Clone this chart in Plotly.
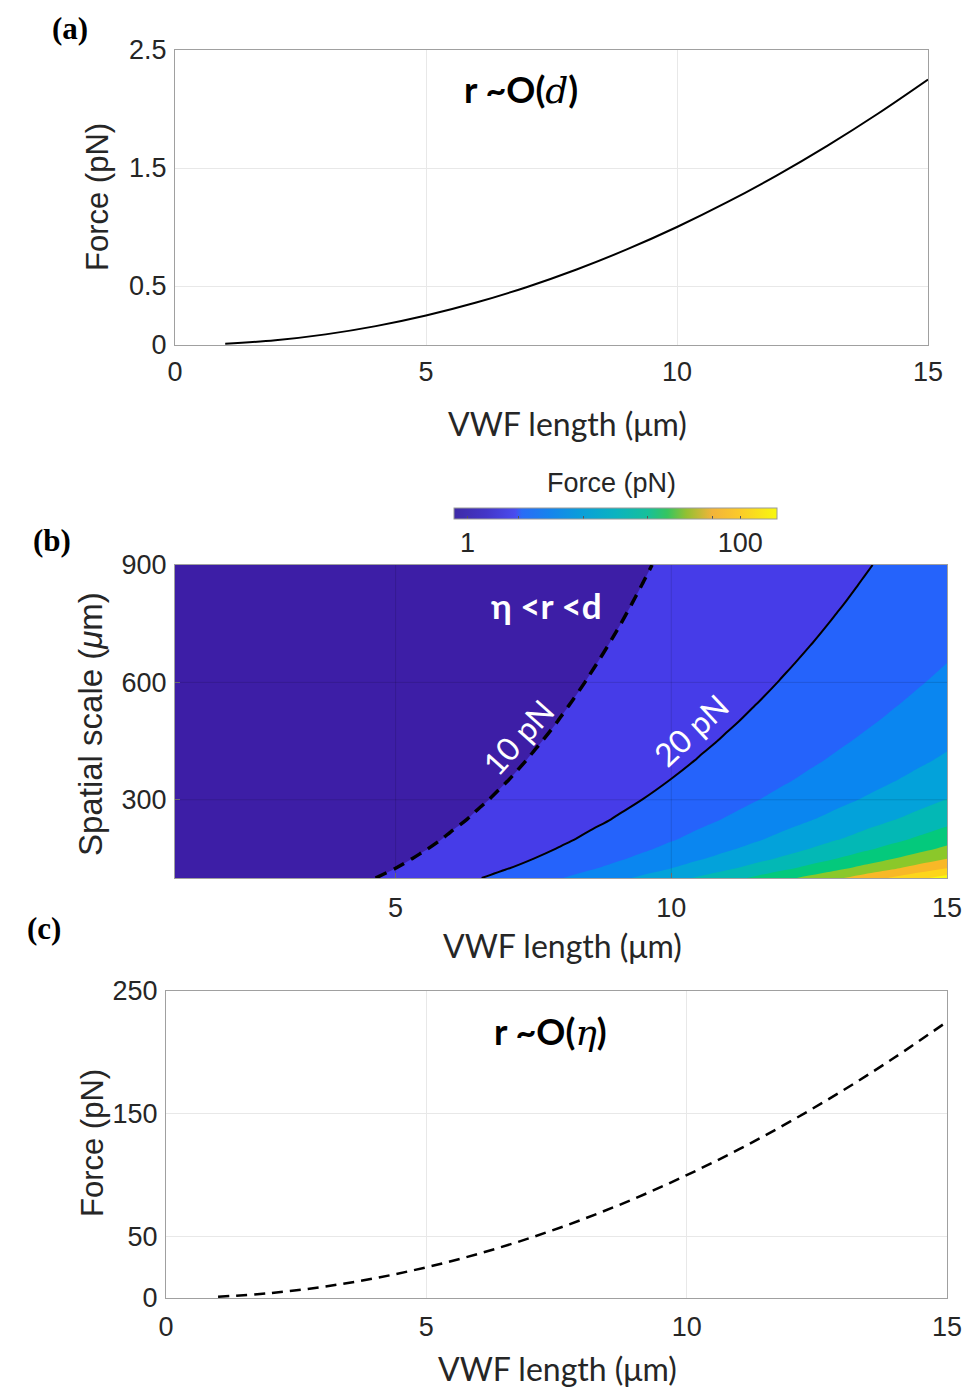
import numpy as np
import plotly.graph_objects as go

# ---------------- data ----------------
vwf_len = [1, 2, 3, 4, 5, 6, 7, 8, 9, 10, 11, 12, 13, 14, 15]
force_a = [0.01, 0.04, 0.09, 0.16, 0.25, 0.36, 0.49, 0.64, 0.81, 1.00,
           1.21, 1.44, 1.69, 1.96, 2.25]
force_c = [1, 4, 9, 16, 25, 36, 49, 64, 81, 100, 121, 144, 169, 196, 225]

# panel (b) grid: VWF length, force at r ~ eta, spatial scale and its force factor
vwf_len_b = [1, 1.5, 2, 2.5, 3, 3.5, 4, 4.5, 5, 5.5, 6, 6.5, 7, 7.5, 8, 8.5,
             9, 9.5, 10, 10.5, 11, 11.5, 12, 12.5, 13, 13.5, 14, 14.5, 15]
force_eta_b = [1, 2.25, 4, 6.25, 9, 12.25, 16, 20.25, 25, 30.25, 36, 42.25,
               49, 56.25, 64, 72.25, 81, 90.25, 100, 110.25, 121, 132.25,
               144, 156.25, 169, 182.25, 196, 210.25, 225]
spatial_scale = [100, 125, 150, 175, 200, 250, 300, 350, 400, 450, 500, 550,
                 600, 650, 700, 750, 800, 850, 900]
scale_factor = [0.4642, 0.4000, 0.3543, 0.3196, 0.2924, 0.2520, 0.2231,
                0.2013, 0.1842, 0.1703, 0.1587, 0.1490, 0.1406, 0.1333,
                0.1268, 0.1211, 0.1160, 0.1115, 0.1073]

band_levels = [10, 20, 30, 40, 50, 60, 70, 80, 90, 100]
band_colors = ['#3d1ea6', '#463ce8', '#2563fb', '#0a86f0', '#03a2da',
               '#03b8b5', '#04c97c', '#8bc82a', '#f8b827', '#fdd51b', '#f9f90f']

parula = [[0.00, '#3e2aa6'], [0.10, '#4336c8'], [0.19, '#4a4cef'],
          [0.21, '#2a6cf6'], [0.30, '#1585ec'], [0.40, '#0aa0d8'],
          [0.50, '#0bb3c0'], [0.60, '#17c09a'], [0.66, '#36c560'],
          [0.72, '#94c032'], [0.80, '#f2b43a'], [0.88, '#fbc92a'],
          [1.00, '#f8f80f']]

x_ticks_a = [0, 5, 10, 15]
y_ticks_a = [0, 0.5, 1.5, 2.5]
x_ticks_b = [5, 10, 15]
y_ticks_b = [300, 600, 900]
y_ticks_c = [0, 50, 150, 250]

# field for panel (b): force = scale_factor(r) * force_eta_b(L)
Z = np.outer(scale_factor, force_eta_b)
Zlog = np.log10(Z)

W, H = 971, 1387
def px(x):
    return x / W
def py(y):
    return 1 - y / H

TICKFONT = dict(family='Liberation Sans, Arial', size=27, color='#262626')
CAL = 'Lato, Calibri, sans-serif'

fig = go.Figure()

# ---------------- panel (a) ----------------
fig.add_trace(go.Scatter(x=vwf_len, y=force_a, mode='lines', line_shape='spline',
                         line=dict(color='black', width=2), xaxis='x', yaxis='y',
                         showlegend=False))

# ---------------- panel (b) ----------------
fig.add_trace(go.Heatmap(x=vwf_len_b, y=spatial_scale, z=Zlog, zmin=-0.1, zmax=2.27,
                         colorscale=parula, xaxis='x2', yaxis='y2', hoverinfo='skip',
                         colorbar=dict(orientation='h', x=px(615.5), xanchor='center',
                                       len=323 / W, lenmode='fraction', thickness=11,
                                       y=py(508), yanchor='top', xpad=0, ypad=0,
                                       outlinewidth=1, outlinecolor='#9a9a9a',
                                       tickvals=[0, 0.374, 0.848, 1.322, 1.796, 2.0],
                                       ticktext=['1', '', '', '', '', '100'],
                                       ticks='inside', ticklen=3, tickcolor='#555',
                                       tickfont=TICKFONT)))

band_scale = [[i / 10, c] for i, c in enumerate(band_colors)]
fig.add_trace(go.Contour(x=vwf_len_b, y=spatial_scale, z=Z, autocontour=False,
                         contours=dict(start=band_levels[0], end=band_levels[-1],
                                       size=band_levels[1] - band_levels[0],
                                       coloring='fill', showlines=False),
                         colorscale=band_scale, showscale=False, line=dict(width=0),
                         xaxis='x2', yaxis='y2', hoverinfo='skip'))
fig.add_trace(go.Contour(x=vwf_len_b, y=spatial_scale, z=Z, autocontour=False,
                         contours=dict(start=10, end=10, size=1, coloring='none'),
                         line=dict(color='black', width=3.5, dash='12px,8px'),
                         showscale=False, xaxis='x2', yaxis='y2', hoverinfo='skip'))
fig.add_trace(go.Contour(x=vwf_len_b, y=spatial_scale, z=Z, autocontour=False,
                         contours=dict(start=20, end=20, size=1, coloring='none'),
                         line=dict(color='black', width=2),
                         showscale=False, xaxis='x2', yaxis='y2', hoverinfo='skip'))

# ---------------- panel (c) ----------------
fig.add_trace(go.Scatter(x=vwf_len, y=force_c, mode='lines', line_shape='spline',
                         line=dict(color='black', width=2.5, dash='11px,7px'),
                         xaxis='x3', yaxis='y3', showlegend=False))

axcommon = dict(showline=True, mirror=True, linecolor='#a0a0a0', linewidth=1,
                zeroline=False, tickfont=TICKFONT, fixedrange=True)

fig.update_layout(
    width=W, height=H, margin=dict(l=0, r=0, t=0, b=0, autoexpand=False),
    paper_bgcolor='white', plot_bgcolor='white', showlegend=False,
    xaxis=dict(domain=[px(175), px(928)], range=[0, 15], tickvals=x_ticks_a,
               showgrid=True, gridcolor='#e8e8e8', ticks='', ticklabelstandoff=3,
               anchor='y', **axcommon),
    yaxis=dict(domain=[py(345), py(50)], range=[0, 2.5], tickvals=y_ticks_a,
               ticktext=[str(v) for v in y_ticks_a],
               showgrid=True, gridcolor='#e8e8e8', ticks='', ticklabelstandoff=2,
               anchor='x', **axcommon),
    xaxis2=dict(domain=[px(175), px(947)], range=[1, 15], tickvals=x_ticks_b,
                showgrid=False, ticks='inside', ticklen=5, tickcolor='#777',
                ticklabelstandoff=6, anchor='y2', **axcommon),
    yaxis2=dict(domain=[py(878), py(565)], range=[100, 900], tickvals=y_ticks_b,
                showgrid=False, ticks='inside', ticklen=5, tickcolor='#777',
                ticklabelstandoff=2, anchor='x2', **axcommon),
    xaxis3=dict(domain=[px(166), px(947)], range=[0, 15], tickvals=x_ticks_a,
                showgrid=True, gridcolor='#e8e8e8', ticks='', ticklabelstandoff=5,
                anchor='y3', **axcommon),
    yaxis3=dict(domain=[py(1298), py(991)], range=[0, 250], tickvals=y_ticks_c,
                showgrid=True, gridcolor='#e8e8e8', ticks='', ticklabelstandoff=2,
                anchor='x3', **axcommon),
)

# faint grid lines drawn over the filled contours of panel (b)
shapes = []
for xv in x_ticks_b[:-1]:
    shapes.append(dict(type='line', xref='x2', yref='y2 domain', x0=xv, x1=xv, y0=0, y1=1,
                       line=dict(color='rgba(0,0,0,0.13)', width=1), layer='above'))
for yv in y_ticks_b[:-1]:
    shapes.append(dict(type='line', xref='x2 domain', yref='y2', x0=0, x1=1, y0=yv, y1=yv,
                       line=dict(color='rgba(0,0,0,0.13)', width=1), layer='above'))
fig.update_layout(shapes=shapes)

ann = []
def paper_text(x, y, text, font, angle=0):
    ann.append(dict(x=px(x), y=py(y), xref='paper', yref='paper', text=text,
                    showarrow=False, font=font, textangle=angle,
                    xanchor='center', yanchor='middle'))

SERIF_B = dict(family='Liberation Serif, Times New Roman', size=31, color='black')
paper_text(70, 28, '<b>(a)</b>', SERIF_B)
paper_text(52, 541, '<b>(b)</b>', SERIF_B)
paper_text(44, 928, '<b>(c)</b>', SERIF_B)

# colorbar title
paper_text(611, 483, 'Force (pN)', dict(family='Liberation Sans, Arial', size=27, color='#262626'))

XT = dict(family=CAL, size=32, color='#262626')
paper_text(567, 423, 'VWF length (μm)', XT)
paper_text(562, 945, 'VWF length (μm)', XT)
paper_text(557, 1368, 'VWF length (μm)', XT)

YT = dict(family='Liberation Sans, Arial', size=31, color='#262626')
paper_text(98, 197, 'Force (pN)', YT, -90)
paper_text(90, 724, "Spatial scale (<i>μ</i>m)", dict(YT, size=33), -90)
paper_text(92, 1143, 'Force (pN)', YT, -90)

TT = dict(family=CAL, size=36, color='black')
paper_text(521, 89, "<b>r ~O(</b><span style='font-family:DejaVu Serif'><i>d</i></span><b>)</b>", TT)
paper_text(550, 1031, "<b>r ~O(</b><span style='font-family:DejaVu Serif'><i>η</i></span><b>)</b>", TT)

WT = dict(family=CAL, size=35, color='white')
paper_text(546, 605, '<b>η &lt;r &lt;d</b>', WT)
LT = dict(family=CAL, size=32, color='white')
paper_text(517, 737, '10 pN', LT, -48)
paper_text(690, 730, '20 pN', LT, -43)

fig.update_layout(annotations=ann)
fig.write_html('out.html')
